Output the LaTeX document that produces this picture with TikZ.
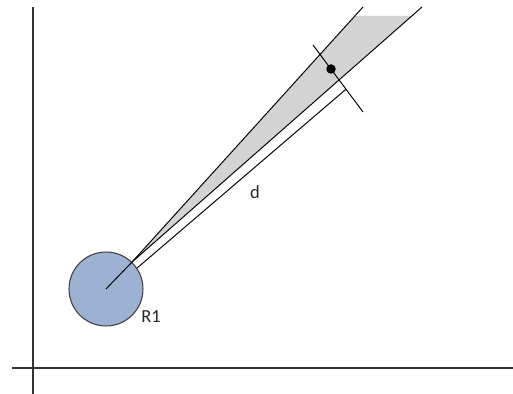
\documentclass[tikz,border=0pt]{standalone}
\usepackage{fontspec}
\setmainfont{Carlito}
\usepackage{tikz}
\usetikzlibrary{calc}
\definecolor{diskblue}{RGB}{157,178,211}
\definecolor{beamgray}{RGB}{211,211,211}

\begin{document}
\begin{tikzpicture}[x=0.02cm, y=-0.02cm,
  axis/.style={line width=1pt, black!80},
  edge/.style={line width=0.55pt, black},
  disk/.style={circle, draw=black!75, line width=0.6pt, fill=diskblue,
               minimum size=1.48cm, inner sep=0pt},
  dot/.style={circle, fill=black, minimum size=0.19cm, inner sep=0pt},
  lbl/.style={font=\fontsize{10.5}{12}\selectfont, text=black!85}
]
  \useasboundingbox (0,0) rectangle (513,394);

  \coordinate (ytop)   at (33,7);
  \coordinate (ybot)   at (33,394);
  \coordinate (xleft)  at (12,368);
  \coordinate (xright) at (513,368);
  \draw[axis] (ytop) -- (ybot);
  \draw[axis] (xleft) -- (xright);

  \node[disk] (src) at (106,289) {};
  \coordinate (apex) at (src.46);
  \coordinate (foot) at (src.34);
  \coordinate (lend) at (363,7);
  \coordinate (rend) at (422,7);
  \coordinate (c1)   at (313,45);
  \coordinate (c2)   at (363,112);
  \coordinate (dend) at ($(c1)!0.66!(c2)$);

  \fill[beamgray] (apex) -- ($(apex)!0.965!(lend)$) -- ($(apex)!0.965!(rend)$) -- cycle;
  \draw[edge] (apex) -- (lend);
  \draw[edge] (apex) -- (rend);
  \draw[edge] (src.center) -- (apex);
  \draw[edge] (foot) -- (dend);
  \draw[edge] (c1) -- (c2);

  \node[dot] (pt) at (331,69) {};
  \node[lbl] (dlbl) at (255,192) {d};
  \node[lbl] (rlbl) at (151,317) {R1};
\end{tikzpicture}
\end{document}
